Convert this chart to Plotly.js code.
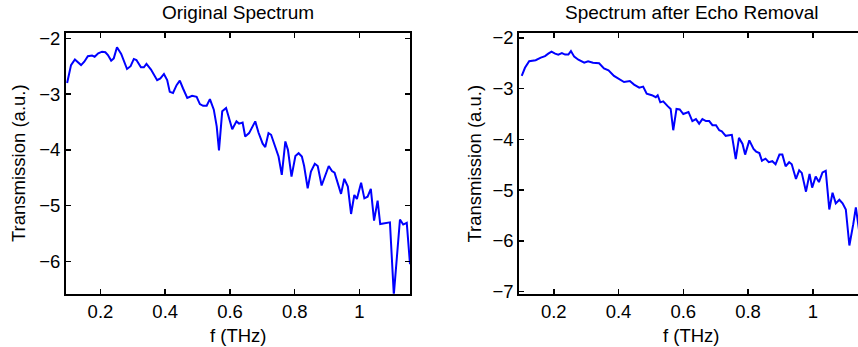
<!DOCTYPE html>
<html>
<head>
<meta charset="utf-8">
<script src="https://cdn.plot.ly/plotly-3.0.1.min.js"></script>
<style>
html,body{margin:0;padding:0;overflow:hidden;background:#fff;}
#chart{width:866px;height:347px;}
</style>
</head>
<body>
<div id="chart"></div>
<script>
// Original spectrum (left panel)
const freqOriginal = [0.097,0.109,0.121,0.140,0.150,0.161,0.174,0.182,0.193,0.205,0.215,0.223,0.233,0.241,0.251,0.264,0.282,0.293,0.303,0.311,0.325,0.334,0.342,0.356,0.375,0.385,0.396,0.406,0.414,0.424,0.435,0.445,0.455,0.468,0.483,0.497,0.507,0.517,0.528,0.538,0.550,0.559,0.566,0.576,0.588,0.607,0.620,0.628,0.639,0.647,0.659,0.678,0.688,0.701,0.709,0.719,0.727,0.740,0.750,0.760,0.771,0.779,0.790,0.802,0.812,0.822,0.829,0.840,0.850,0.862,0.871,0.883,0.894,0.905,0.915,0.923,0.943,0.953,0.964,0.974,0.984,0.992,1.005,1.015,1.025,1.035,1.045,1.056,1.064,1.094,1.106,1.125,1.135,1.146,1.156];
const transOriginal = [-2.80,-2.48,-2.38,-2.48,-2.42,-2.32,-2.31,-2.33,-2.27,-2.24,-2.25,-2.30,-2.40,-2.36,-2.16,-2.28,-2.55,-2.50,-2.37,-2.39,-2.52,-2.52,-2.46,-2.56,-2.75,-2.72,-2.64,-2.75,-2.96,-2.98,-2.84,-2.76,-2.90,-3.07,-3.03,-3.05,-3.18,-3.21,-3.21,-3.09,-3.28,-3.58,-4.01,-3.31,-3.25,-3.63,-3.49,-3.53,-3.51,-3.76,-3.70,-3.49,-3.69,-3.89,-3.95,-3.70,-3.73,-3.97,-4.12,-4.45,-3.85,-4.00,-4.48,-4.11,-4.06,-4.12,-4.29,-4.69,-4.39,-4.25,-4.29,-4.64,-4.48,-4.29,-4.38,-4.41,-4.79,-4.52,-4.66,-5.15,-4.81,-4.88,-4.59,-4.87,-4.84,-4.70,-5.27,-4.91,-5.33,-5.30,-6.60,-5.25,-5.34,-5.31,-6.05];

// Spectrum after echo removal (right panel)
const freqCleaned = [0.101,0.111,0.124,0.144,0.160,0.173,0.183,0.193,0.204,0.214,0.225,0.235,0.245,0.253,0.263,0.276,0.294,0.306,0.321,0.340,0.355,0.369,0.386,0.402,0.417,0.435,0.448,0.464,0.476,0.487,0.503,0.515,0.521,0.529,0.538,0.551,0.561,0.569,0.579,0.589,0.600,0.616,0.628,0.639,0.649,0.659,0.670,0.680,0.690,0.701,0.711,0.719,0.731,0.750,0.762,0.772,0.783,0.791,0.804,0.817,0.825,0.835,0.843,0.854,0.864,0.875,0.885,0.897,0.906,0.916,0.927,0.935,0.948,0.958,0.966,0.979,0.990,0.998,1.009,1.019,1.030,1.040,1.051,1.061,1.071,1.082,1.092,1.102,1.113,1.125,1.133,1.144,1.152];
const transCleaned = [-2.75,-2.59,-2.46,-2.44,-2.39,-2.36,-2.31,-2.27,-2.31,-2.33,-2.30,-2.33,-2.33,-2.26,-2.37,-2.43,-2.49,-2.46,-2.49,-2.50,-2.60,-2.64,-2.75,-2.82,-2.87,-2.85,-2.92,-2.98,-2.96,-3.10,-3.13,-3.17,-3.13,-3.27,-3.25,-3.34,-3.40,-3.82,-3.40,-3.41,-3.50,-3.46,-3.64,-3.60,-3.69,-3.60,-3.64,-3.64,-3.72,-3.72,-3.82,-3.84,-3.93,-3.91,-4.39,-3.97,-4.09,-4.30,-4.02,-4.19,-4.24,-4.27,-4.42,-4.38,-4.45,-4.43,-4.49,-4.30,-4.30,-4.53,-4.45,-4.49,-4.78,-4.61,-4.66,-5.03,-4.68,-4.95,-4.73,-4.84,-4.65,-4.62,-5.38,-5.05,-5.26,-5.19,-5.26,-5.38,-6.09,-5.67,-5.34,-5.84,-5.55];

const xTickVals = [0.2,0.4,0.6,0.8,1];
const xTickText = ['0.2','0.4','0.6','0.8','1'];
const panelTitles = ['Original Spectrum','Spectrum after Echo Removal'];
const xLabel = 'f (THz)';
const yLabel = 'Transmission (a.u.)';

const W = 866, H = 347;
const FONT = 'Liberation Sans, Arial, Helvetica, sans-serif';
const px = v => v / W;
const py = v => 1 - v / H;

const lineStyle = {color:'#0000ff', width:2};

const traces = [
  {x:freqOriginal, y:transOriginal, type:'scatter', mode:'lines', line:lineStyle, xaxis:'x', yaxis:'y', hoverinfo:'skip'},
  {x:freqCleaned, y:transCleaned, type:'scatter', mode:'lines', line:lineStyle, xaxis:'x2', yaxis:'y2', hoverinfo:'skip'}
];

const axisCommon = {
  showline:true, linecolor:'#000', linewidth:2, mirror:'ticks',
  ticks:'inside', ticklen:5, tickwidth:1.5, tickcolor:'#000',
  showgrid:false, zeroline:false,
  tickfont:{family:FONT, size:18.5, color:'#000'}
};

const PL = {l:66, r:410}, PR = {l:519.3, r:863.3};
const plotTop = 33.3, plotBottom = 293.7;

const layout = {
  width:W, height:H,
  margin:{l:0, r:0, t:0, b:0},
  paper_bgcolor:'#fff', plot_bgcolor:'#fff',
  showlegend:false,
  xaxis:Object.assign({}, axisCommon, {domain:[px(PL.l), px(PL.r)], range:[0.0935,1.156], tickvals:xTickVals, ticktext:xTickText, anchor:'y'}),
  yaxis:Object.assign({}, axisCommon, {domain:[py(plotBottom), py(plotTop)], range:[-6.58,-1.91], dtick:1, tick0:0, anchor:'x'}),
  xaxis2:Object.assign({}, axisCommon, {domain:[px(PR.l), px(PR.r)], range:[0.0935,1.156], tickvals:xTickVals, ticktext:xTickText, anchor:'y2'}),
  yaxis2:Object.assign({}, axisCommon, {domain:[py(plotBottom), py(plotTop)], range:[-7.04,-1.91], dtick:1, tick0:0, anchor:'x2'}),
  annotations:[
    {text:panelTitles[0], xref:'paper', yref:'paper', x:px((PL.l+PL.r)/2), y:py(13), xanchor:'center', yanchor:'middle', showarrow:false, font:{family:FONT, size:19, color:'#000'}},
    {text:panelTitles[1], xref:'paper', yref:'paper', x:px((PR.l+PR.r)/2), y:py(13), xanchor:'center', yanchor:'middle', showarrow:false, font:{family:FONT, size:19, color:'#000'}},
    {text:xLabel, xref:'paper', yref:'paper', x:px((PL.l+PL.r)/2), y:py(335), xanchor:'center', yanchor:'middle', showarrow:false, font:{family:FONT, size:18.5, color:'#000'}},
    {text:xLabel, xref:'paper', yref:'paper', x:px((PR.l+PR.r)/2), y:py(335), xanchor:'center', yanchor:'middle', showarrow:false, font:{family:FONT, size:18.5, color:'#000'}},
    {text:yLabel, xref:'paper', yref:'paper', x:px(18.5), y:py((plotTop+plotBottom)/2), xanchor:'center', yanchor:'middle', textangle:-90, showarrow:false, font:{family:FONT, size:18.5, color:'#000'}},
    {text:yLabel, xref:'paper', yref:'paper', x:px(474), y:py((plotTop+plotBottom)/2), xanchor:'center', yanchor:'middle', textangle:-90, showarrow:false, font:{family:FONT, size:18.5, color:'#000'}}
  ]
};

Plotly.newPlot('chart', traces, layout, {staticPlot:true, displayModeBar:false});
</script>
</body>
</html>
